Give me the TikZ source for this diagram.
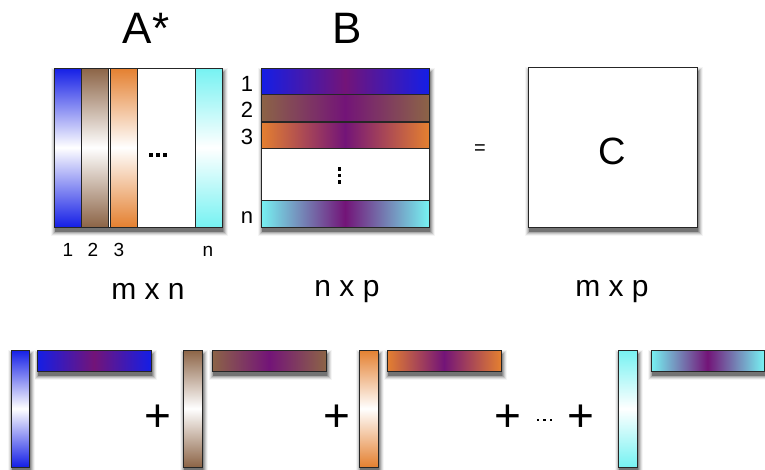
\documentclass[tikz,border=0pt]{standalone}
\usepackage{fontspec}
\setmainfont{Liberation Sans}
\definecolor{cblue}{RGB}{20,30,230}
\definecolor{cbrown}{RGB}{140,100,70}
\definecolor{corange}{RGB}{228,128,48}
\definecolor{ccyan}{RGB}{118,242,242}
\definecolor{cpurple}{RGB}{115,20,120}
\definecolor{shd1}{RGB}{245,245,245}
\definecolor{shd2}{RGB}{225,225,225}
\definecolor{shd3}{RGB}{200,200,200}
\definecolor{shd4}{RGB}{170,170,170}
\definecolor{shd5}{RGB}{140,140,140}
\definecolor{shd6}{RGB}{115,115,115}
\tikzset{
  mbox/.style={draw=black!85, line width=0.8pt},
  colgrad/.style={mbox, top color=#1, bottom color=#1, middle color=white},
  rowgrad/.style={mbox, left color=#1, right color=#1, middle color=cpurple},
  fs/.style={font=\fontsize{#1}{#1}\selectfont, inner sep=0pt, anchor=base},
  dotmark/.style={fill=black},
  shadowed/.style={preaction={fill=shd1, transform canvas={xshift=1pt,yshift=-4pt}, outer sep=0pt, draw=shd1, line width=9pt},
                   preaction={fill=shd2, transform canvas={xshift=1pt,yshift=-4pt}, draw=shd2, line width=7pt},
                   preaction={fill=shd3, transform canvas={xshift=1pt,yshift=-4pt}, draw=shd3, line width=5pt},
                   preaction={fill=shd4, transform canvas={xshift=1pt,yshift=-4pt}, draw=shd4, line width=3pt},
                   preaction={fill=shd5, transform canvas={xshift=1pt,yshift=-4pt}, draw=shd5, line width=1pt},
                   preaction={fill=shd6, transform canvas={xshift=1pt,yshift=-5pt}}},
}
\begin{document}
\begin{tikzpicture}[x=1pt,y=-1pt]
\useasboundingbox (0,0) rectangle (765,469);
% shadows
\path[shadowed] (54,68) rectangle (222,227);
\path[shadowed] (261,68) rectangle (429,227);
\path[shadowed] (528,67) rectangle (697,227);
\path[shadowed] (11,350) rectangle (29,467);
\path[shadowed] (37,350) rectangle (151,371);
\path[shadowed] (183,350) rectangle (202,467);
\path[shadowed] (212,350) rectangle (326,371);
\path[shadowed] (359,350) rectangle (378,467);
\path[shadowed] (387,350) rectangle (501,371);
\path[shadowed] (618,350) rectangle (637,467);
\path[shadowed] (651,350) rectangle (764,371);
% titles
\node[fs=44] (tA) at (146,43) {A*};
\node[fs=44] (tB) at (347,43) {B};
% matrix A
\path[mbox, fill=white] (54,68) rectangle (222,227);
\path[colgrad=cblue] (54,68) rectangle (81,227);
\path[colgrad=cbrown] (81,68) rectangle (108,227);
\path[colgrad=corange] (110,68) rectangle (137,227);
\path[mbox, fill=white] (137,68) rectangle (195,227);
\path[colgrad=ccyan] (195,68) rectangle (222,227);
\foreach \x in {151,158,165} \fill[dotmark] (\x-1.6,153.4) rectangle (\x+1.6,156.6);
\node[fs=19] (a1) at (68,256) {1};
\node[fs=19] (a2) at (93,256) {2};
\node[fs=19] (a3) at (119,256) {3};
\node[fs=19] (an) at (208,256) {n};
\node[fs=30] (dA) at (148,299) {m x n};
% matrix B
\path[mbox, fill=white] (261,68) rectangle (429,227);
\path[rowgrad=cblue] (261,68) rectangle (429,94.5);
\path[rowgrad=cbrown] (261,94.5) rectangle (429,121.5);
\path[rowgrad=corange] (261,122) rectangle (429,148.5);
\path[mbox, fill=white] (261,148.5) rectangle (429,200);
\path[rowgrad=ccyan] (261,200) rectangle (429,227);
\foreach \y in {169,175.5,182} \fill[dotmark] (337.6,\y-1.6) rectangle (340.6,\y+1.6);
\node[fs=22] (b1) at (247,91) {1};
\node[fs=22] (b2) at (247,117.5) {2};
\node[fs=22] (b3) at (247,144) {3};
\node[fs=22] (bn) at (247,223) {n};
\node[fs=30] (dB) at (347,296) {n x p};
% equals and C
\node[fs=20] (eq) at (480,154) {=};
\path[mbox, fill=white] (528,67) rectangle (697,227);
\node[fs=38] (tC) at (612,164) {C};
\node[fs=30] (dC) at (612,296) {m x p};
% bottom outer products
\path[colgrad=cblue] (11,350) rectangle (29,467);
\path[rowgrad=cblue] (37,350) rectangle (151,371);
\node[fs=46] (p1) at (158,431) {+};
\path[colgrad=cbrown] (183,350) rectangle (202,467);
\path[rowgrad=cbrown] (212,350) rectangle (326,371);
\node[fs=46] (p2) at (337,431) {+};
\path[colgrad=corange] (359,350) rectangle (378,467);
\path[rowgrad=corange] (387,350) rectangle (501,371);
\node[fs=46] (p3) at (508,431) {+};
\foreach \x in {538,544.5,551} \fill[dotmark] (\x-1.2,418.8) rectangle (\x+1.2,421.2);
\node[fs=46] (p4) at (581,431) {+};
\path[colgrad=ccyan] (618,350) rectangle (637,467);
\path[rowgrad=ccyan] (651,350) rectangle (764,371);
\end{tikzpicture}
\end{document}
